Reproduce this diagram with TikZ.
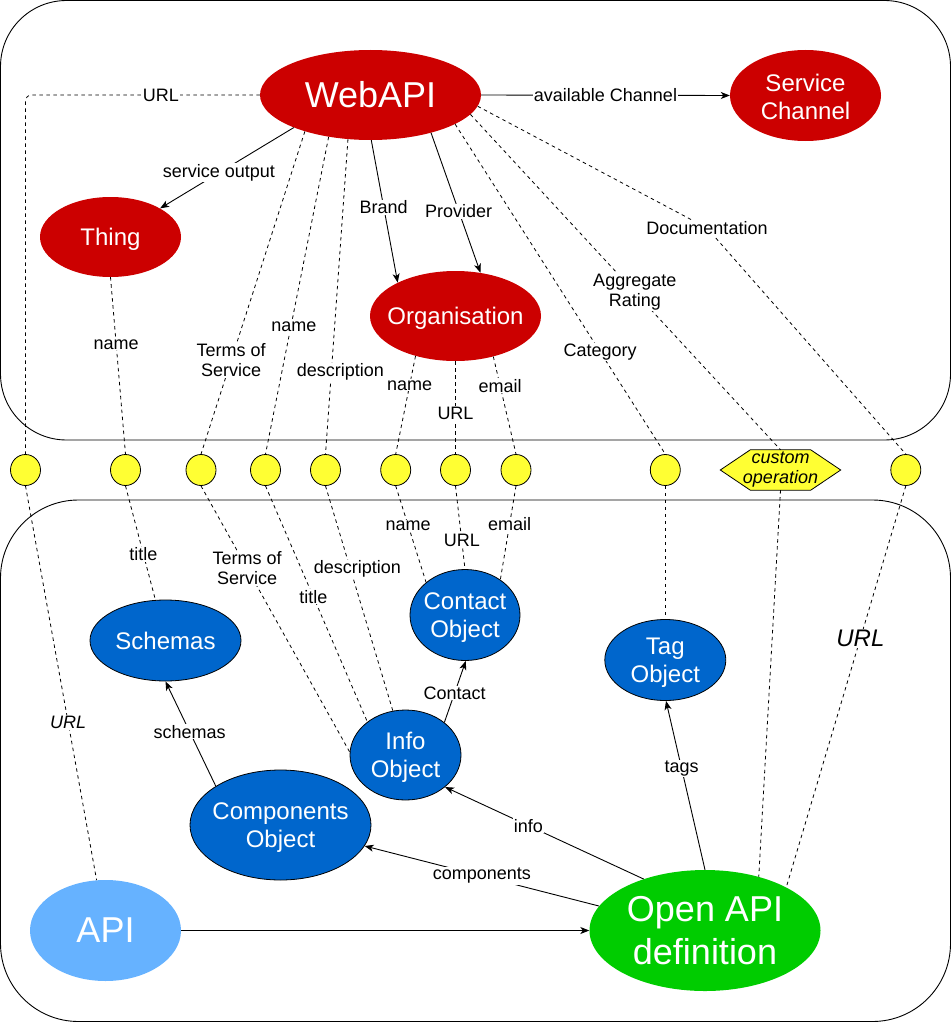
\documentclass[tikz,border=0pt]{standalone}
\usepackage{fontspec}
\setmainfont{Liberation Sans}
\usetikzlibrary{shapes.geometric,arrows.meta,backgrounds}
\definecolor{webred}{HTML}{CC0000}
\definecolor{objblue}{HTML}{0066CC}
\definecolor{apiblue}{HTML}{66B2FF}
\definecolor{oagreen}{HTML}{00CC00}
\definecolor{yel}{HTML}{FFFF33}
\begin{document}
\begin{tikzpicture}[x=1pt,y=-1pt,
  container/.style={draw=black, line width=0.9pt},
  ell/.style={ellipse, inner sep=0pt, draw=none},
  redell/.style={ell, fill=webred},
  blueell/.style={ell, fill=objblue, draw=black, line width=0.8pt},
  ntext/.style={text=white, align=center, inner sep=0pt, yshift=-2.5pt, font=\fontsize{24}{28}\selectfont},
  btext/.style={text=white, align=center, inner sep=0pt, font=\fontsize{36}{43}\selectfont},
  yc/.style={ellipse, draw=black, line width=0.8pt, fill=yel, minimum width=30pt, minimum height=31pt, inner sep=0pt},
  lab/.style={fill=white, inner sep=1pt, align=center, text=black, font=\fontsize{18}{20}\selectfont},
  arr/.style={draw=black, line width=0.9pt, -{Stealth[length=9pt,width=7pt,inset=2.5pt]}},
  dsh/.style={draw=black, line width=0.8pt, dash pattern=on 3.5pt off 3.5pt}
]
\useasboundingbox (0,0) rectangle (951,1022);
% containers
\draw[container, rounded corners=66pt] (0.5,0.5) rectangle (950.5,440);
\draw[container, rounded corners=78pt] (0.5,500) rectangle (950.5,1021.5);

% top nodes
\node[redell, minimum width=221pt, minimum height=90pt, label={[btext]center:WebAPI}] (web) at (370.5,95) {};
\node[redell, minimum width=151pt, minimum height=91pt, label={[ntext, yshift=1.5pt]center:Service\\Channel}] (sc) at (805.5,95.5) {};
\node[redell, minimum width=141pt, minimum height=80pt, label={[ntext]center:Thing}] (thing) at (110.5,237) {};
\node[redell, minimum width=171pt, minimum height=90pt, label={[ntext]center:Organisation}] (org) at (455.5,316) {};

% yellow circles
\node[yc] (c1) at (25.5,470) {};
\node[yc] (c2) at (125.5,470) {};
\node[yc] (c3) at (201,470) {};
\node[yc] (c4) at (265.5,470) {};
\node[yc] (c5) at (325.5,470) {};
\node[yc] (c6) at (395.7,470) {};
\node[yc] (c7) at (455.5,470) {};
\node[yc] (c8) at (516,470) {};
\node[yc] (c9) at (665.3,470) {};
\node[yc] (c10) at (905.8,470) {};
\node[inner sep=0pt, minimum width=120pt, minimum height=40pt, align=center, font=\fontsize{18}{20}\selectfont\itshape] (hex) at (780.5,470) {custom\\operation};
\begin{scope}[on background layer]
\draw[line width=0.8pt, fill=yel] (hex.west) -- ([xshift=30pt]hex.north west) -- ([xshift=-30pt]hex.north east) -- (hex.east) -- ([xshift=-30pt]hex.south east) -- ([xshift=30pt]hex.south west) -- cycle;
\end{scope}

% bottom nodes
\node[blueell, minimum width=151pt, minimum height=81pt, label={[ntext, yshift=2pt]center:Schemas}] (sch) at (165.5,640.5) {};
\node[blueell, minimum width=110pt, minimum height=91pt, label={[ntext]center:Contact\\Object}] (contact) at (465,615) {};
\node[blueell, minimum width=121pt, minimum height=81pt, label={[ntext]center:Tag\\Object}] (tag) at (665.3,660) {};
\node[blueell, minimum width=111pt, minimum height=90pt, label={[ntext]center:Info\\Object}] (info) at (405.5,755) {};
\node[blueell, minimum width=181pt, minimum height=110pt, label={[ntext]center:Components\\Object}] (comp) at (280.5,825) {};
\node[ell, fill=apiblue, minimum width=151pt, minimum height=101pt, label={[btext]center:API}] (api) at (105.5,930.5) {};
\node[ell, fill=oagreen, minimum width=231pt, minimum height=121pt, label={[btext]center:Open API\\definition}] (oad) at (705,930.5) {};

% top solid edges
\draw[arr] (web.east) -- node[lab]{available Channel} (sc.west);
\draw[arr] (web.203) -- node[lab, pos=0.56]{service output} (thing.30);
\draw[arr] (web.271) -- node[lab, pos=0.47]{Brand} (org.150);
\draw[arr] (web.328) -- node[lab, pos=0.56]{Provider} (org.60);

% top dashed edges
\draw[dsh, rounded corners=6pt] (web.west) -| node[lab, pos=0.211]{URL} (c1.north);
\draw[dsh] (thing.270) -- node[lab, pos=0.38]{name} (c2.north);
\draw[dsh] (web.209) -- node[lab, pos=0.71]{Terms of\\Service} (c3.north);
\draw[dsh] (web.225) -- node[lab, pos=0.6, xshift=3pt]{name} (c4.north);
\draw[dsh] (web.243) -- node[lab, pos=0.74, xshift=9pt]{description} (c5.north);
\draw[dsh] (org.225) -- node[lab, pos=0.3]{name} (c6.north);
\draw[dsh] (org.270) -- node[lab, pos=0.56]{URL} (c7.north);
\draw[dsh] (org.313) -- node[lab, pos=0.3]{email} (c8.north);
\draw[dsh] (web.341) -- node[lab, pos=0.69]{Category} (c9.north);
\draw[dsh] (web.349) -- node[lab, pos=0.53]{Aggregate\\Rating} (hex.north);
\coordinate (docbend) at (707,228);
\draw[dsh] (web.354) -- (docbend) node[lab]{Documentation} -- (c10.north);

% bottom dashed edges
\draw[dsh] (c1.south) -- node[lab, pos=0.6, font=\fontsize{18}{20}\selectfont\itshape]{URL} (api.100);
\draw[dsh] (c2.south) -- node[lab, pos=0.6]{title} (sch.104);
\draw[dsh] (c3.south) -- node[lab, pos=0.31]{Terms of\\Service} (info.177);
\draw[dsh] (c4.south) -- node[lab, pos=0.47]{title} (info.139);
\draw[dsh] (c5.south) -- node[lab, pos=0.37, xshift=7pt]{description} (info.106);
\draw[dsh] (c6.south) -- node[lab, pos=0.41]{name} (contact.140);
\draw[dsh] (c7.south) -- node[lab, pos=0.66]{URL} (contact.90);
\draw[dsh] (c8.south) -- node[lab, pos=0.41]{email} (contact.45);
\draw[dsh] (c9.south) -- (tag.north);
\draw[dsh] (hex.south) -- (oad.45);
\draw[dsh] (c10.south) -- node[lab, pos=0.38, font=\fontsize{24}{27}\selectfont\itshape]{URL} (oad.28);

% bottom solid edges
\draw[arr] (info.40) -- node[lab, pos=0.48]{Contact} (contact.271);
\draw[arr] (oad.140) -- node[lab, pos=0.58]{info} (info.321);
\draw[arr] (oad.167) -- node[lab, pos=0.5]{components} (comp.346);
\draw[arr] (oad.90) -- node[lab, pos=0.6]{tags} (tag.271);
\draw[arr] (comp.149) -- node[lab, pos=0.52]{schemas} (sch.270);
\draw[arr] (api.east) -- (oad.west);
\end{tikzpicture}
\end{document}
